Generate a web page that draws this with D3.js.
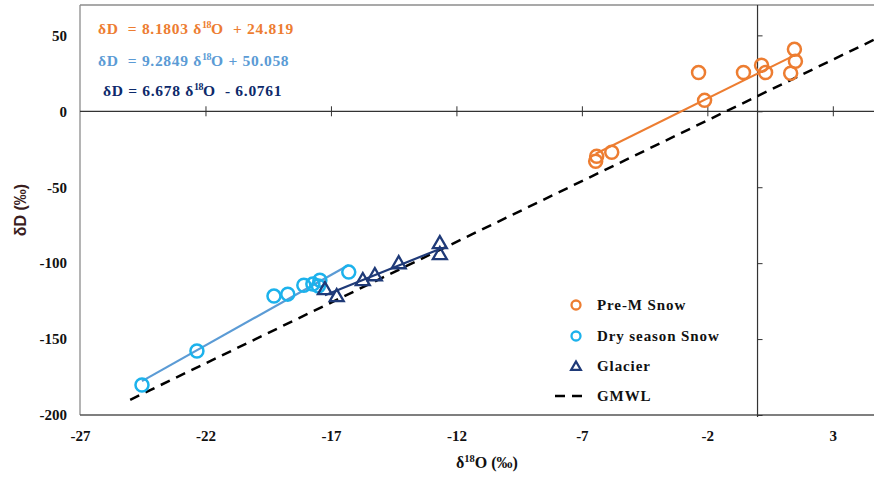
<!DOCTYPE html>
<html>
<head>
<meta charset="utf-8">
<script src="https://cdn.jsdelivr.net/npm/d3@7"></script>
<style>
  html, body { margin: 0; padding: 0; background: #fff; }
  svg { display: block; }
  text { font-family: "Liberation Serif", "Times New Roman", serif; font-weight: bold; white-space: pre; }
</style>
</head>
<body>
<svg id="chart" width="874" height="477"></svg>
<script>
// δ18O (x) and δD (y) measurements, ‰
const preMX = [-2.35, -2.11, -0.56, 0.16, 0.32, 1.47, 1.51, 1.32, -6.41, -6.45, -5.81];
const preMY = [25.5, 7.2, 25.5, 30.3, 25.5, 40.8, 32.9, 25.0, -29.6, -32.9, -27.0];

const dryX = [-24.53, -22.34, -19.27, -18.72, -18.08, -17.72, -17.44, -17.50, -16.29];
const dryY = [-180.3, -157.9, -121.7, -120.4, -114.5, -113.8, -111.2, -115.0, -105.9];

const glacierX = [-17.24, -16.77, -15.73, -15.25, -14.30, -12.66, -12.66];
const glacierY = [-117.8, -122.4, -111.8, -108.6, -100.7, -87.5, -94.7];

// Regression fits: [slope, intercept]
const fitPreM = [8.1803, 24.819];
const fitDry = [9.2849, 50.058];
const fitGlacier = [6.678, -6.0761];
const gmwl = [8, 10];
const gmwlRange = [-25, 5];

const xTicks = [-27, -22, -17, -12, -7, -2, 3];
const yTicks = [-200, -150, -100, -50, 0, 50];

const svg = d3.select("#chart");
const x = d3.scaleLinear().domain([-27, 5]).range([80, 883]);
const y = d3.scaleLinear().domain([-200, 70]).range([415, 5]);

const cOrange = "#ED7D31", cLine2 = "#5B9BD5", cCyan = "#1CB2EC", cNavy = "#1F3A78", cFrame = "#8c8c8c";
const fmt = d => String(d);

// plot frame (left, top, bottom)
svg.append("line").attr("x1", 80).attr("x2", 80).attr("y1", 5).attr("y2", 415).attr("stroke", cFrame).attr("stroke-width", 1.3);
svg.append("line").attr("x1", 80).attr("x2", 874).attr("y1", 5).attr("y2", 5).attr("stroke", cFrame).attr("stroke-width", 1.3);
svg.append("line").attr("x1", 80).attr("x2", 874).attr("y1", 415).attr("y2", 415).attr("stroke", "#555").attr("stroke-width", 1.3);

// zero axes crossing the plot
svg.append("line").attr("x1", 80).attr("x2", 874).attr("y1", y(0)).attr("y2", y(0)).attr("stroke", "#333").attr("stroke-width", 1.2);
svg.append("line").attr("x1", x(0)).attr("x2", x(0)).attr("y1", 5).attr("y2", 417).attr("stroke", "#333").attr("stroke-width", 1.2);

// tick crosses on the zero axes
const xAxisG = svg.append("g").attr("transform", `translate(0,${y(0)})`)
  .call(d3.axisBottom(x).tickValues(xTicks.slice(1)).tickSize(5).tickFormat(""));
xAxisG.select(".domain").remove();
xAxisG.selectAll(".tick line").attr("y1", -5).attr("stroke", "#333");
const yAxisG = svg.append("g").attr("transform", `translate(${x(0)},0)`)
  .call(d3.axisLeft(y).tickValues(yTicks).tickSize(5).tickFormat(""));
yAxisG.select(".domain").remove();
yAxisG.selectAll(".tick line").attr("x2", 5).attr("stroke", "#333");

// tick labels along the bottom and left
const xLab = svg.append("g").attr("transform", "translate(0,415)")
  .call(d3.axisBottom(x).tickValues(xTicks).tickSize(0).tickPadding(15).tickFormat(fmt));
xLab.select(".domain").remove();
xLab.selectAll("text").attr("font-size", 15).attr("fill", "#111");
const yLab = svg.append("g").attr("transform", "translate(80,0)")
  .call(d3.axisLeft(y).tickValues(yTicks).tickSize(0).tickPadding(13).tickFormat(fmt));
yLab.select(".domain").remove();
yLab.selectAll("text").attr("font-size", 15).attr("fill", "#111");

// axis titles
const xt = svg.append("text").attr("x", 487).attr("y", 468).attr("text-anchor", "middle").attr("font-size", 16).attr("fill", "#111");
xt.append("tspan").text("δ");
xt.append("tspan").text("18").attr("font-size", 10.5).attr("dy", -6);
xt.append("tspan").text("O (‰)").attr("dy", 6);
svg.append("text").attr("transform", "translate(26,210) rotate(-90)").attr("text-anchor", "middle")
  .style("font-family", "'Liberation Sans', Arial, sans-serif")
  .attr("font-size", 16).attr("fill", "#3a1d1d").text("δD (‰)");

// GMWL
const fitLine = (fit, xr) => xr.map(v => [x(v), y(fit[0] * v + fit[1])]);
svg.append("path").attr("d", d3.line()(fitLine(gmwl, gmwlRange)))
  .attr("stroke", "#000").attr("stroke-width", 2.5).attr("stroke-dasharray", "10,7").attr("fill", "none");

// regression lines over each series' span
svg.append("path").attr("d", d3.line()(fitLine(fitPreM, d3.extent(preMX))))
  .attr("stroke", cOrange).attr("stroke-width", 2).attr("fill", "none");
svg.append("path").attr("d", d3.line()(fitLine(fitDry, d3.extent(dryX))))
  .attr("stroke", cLine2).attr("stroke-width", 2.2).attr("fill", "none");
svg.append("path").attr("d", d3.line()(fitLine(fitGlacier, d3.extent(glacierX))))
  .attr("stroke", cNavy).attr("stroke-width", 2.2).attr("fill", "none");

// markers
const drawCircles = (xs, ys, color) => svg.append("g").selectAll("circle")
  .data(d3.zip(xs, ys)).join("circle")
  .attr("cx", d => x(d[0])).attr("cy", d => y(d[1])).attr("r", 6.5)
  .attr("fill", "none").attr("stroke", color).attr("stroke-width", 2.5);
drawCircles(preMX, preMY, cOrange);
drawCircles(dryX, dryY, cCyan);
const tri = d3.symbol().type(d3.symbolTriangle).size(85);
svg.append("g").selectAll("path").data(d3.zip(glacierX, glacierY)).join("path")
  .attr("d", tri).attr("transform", d => `translate(${x(d[0])},${y(d[1])})`)
  .attr("fill", "none").attr("stroke", cNavy).attr("stroke-width", 2.3).attr("stroke-linejoin", "miter");

// regression equations
const eq = (yy, xx, color, pre, post) => {
  const t = svg.append("text").attr("x", xx).attr("y", yy).attr("font-size", 15.5)
    .attr("letter-spacing", 0.7).attr("fill", color);
  t.append("tspan").text(pre);
  t.append("tspan").text("18").attr("font-size", 10).attr("dy", -6).attr("letter-spacing", -0.5);
  t.append("tspan").text(post).attr("dy", 6);
};
eq(34, 98, cOrange, "δD  = 8.1803 δ", "O  + 24.819");
eq(66, 98, cLine2, "δD  = 9.2849 δ", "O + 50.058");
eq(96, 103, "#0d2a6b", "δD = 6.678 δ", "O  - 6.0761");

// legend
const lg = svg.append("g").attr("font-size", 15).attr("letter-spacing", 0.9).attr("fill", "#111");
const legendRows = [
  { label: "Pre-M Snow", y: 305 },
  { label: "Dry season Snow", y: 336 },
  { label: "Glacier", y: 366 },
  { label: "GMWL", y: 396 }
];
lg.append("circle").attr("cx", 576).attr("cy", legendRows[0].y).attr("r", 4.5).attr("fill", "none").attr("stroke", cOrange).attr("stroke-width", 2.3);
lg.append("circle").attr("cx", 576).attr("cy", legendRows[1].y).attr("r", 4.5).attr("fill", "none").attr("stroke", cCyan).attr("stroke-width", 2.3);
lg.append("path").attr("d", d3.symbol().type(d3.symbolTriangle).size(40))
  .attr("transform", `translate(576,${legendRows[2].y + 1})`).attr("fill", "none").attr("stroke", cNavy).attr("stroke-width", 2.3);
lg.append("line").attr("x1", 555).attr("x2", 586).attr("y1", legendRows[3].y).attr("y2", legendRows[3].y)
  .attr("stroke", "#000").attr("stroke-width", 2.5).attr("stroke-dasharray", "10,7");
lg.selectAll("text.lab").data(legendRows).join("text").attr("class", "lab")
  .attr("x", 597).attr("y", d => d.y + 5).text(d => d.label);
</script>
</body>
</html>
